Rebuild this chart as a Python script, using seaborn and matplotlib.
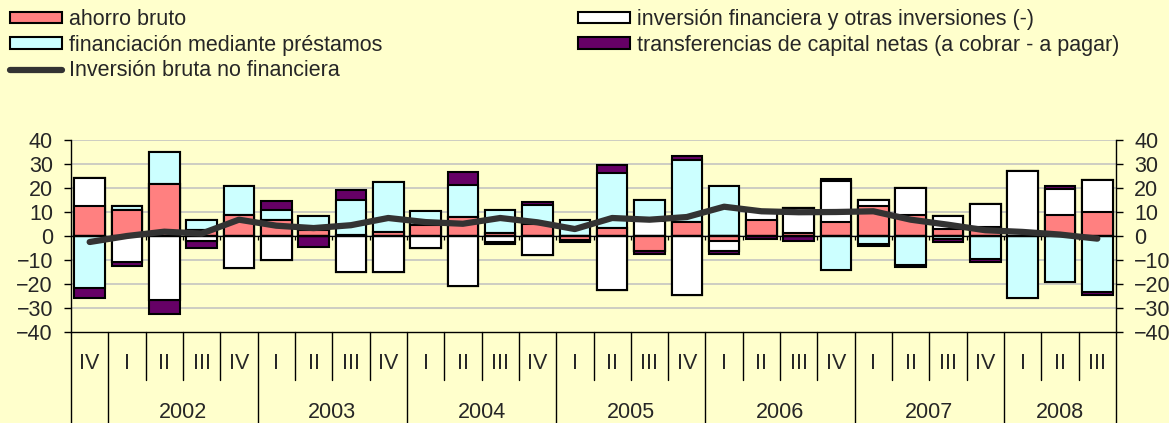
import numpy as np
import pandas as pd
import matplotlib
matplotlib.use("Agg")
import matplotlib.pyplot as plt
from matplotlib.patches import Patch
from matplotlib.lines import Line2D
import seaborn as sns

# quarters 2001 IV .. 2008 III
quarters = ["IV", "I", "II", "III", "IV", "I", "II", "III", "IV", "I", "II", "III", "IV",
            "I", "II", "III", "IV", "I", "II", "III", "IV", "I", "II", "III", "IV",
            "I", "II", "III"]
years = ["2002", "2003", "2004", "2005", "2006", "2007", "2008"]

ahorro = [12.4, 10.7, 21.5, 2.6, 8.9, 6.8, 2.5, 0.3, 1.7, 4.4, 7.9, 1.1, 5.1, -1.5,
          3.3, -6.4, 5.8, -2.2, 6.8, 1.2, 5.8, 12.6, 8.9, 3.0, 3.7, 0.0, 8.9, 9.9]
inv_fin = [11.7, -10.8, -26.7, -2.2, -13.5, -10.1, 0.0, -15.1, -15.1, -5.1, -21.0, -2.4, -7.8, 0.0,
           -22.6, 6.1, -24.4, -4.2, 3.7, 10.3, 17.2, 2.2, 11.0, 5.2, 9.5, 27.0, 10.7, 13.3]
prestamos = [-21.7, 1.7, 13.3, 3.9, 11.8, 3.9, 5.7, 14.7, 20.7, 6.2, 13.5, 9.6, 7.9, 6.5,
             22.9, 8.8, 25.7, 20.7, 0.0, 0.0, -14.3, -3.2, -12.2, -1.2, -9.6, -26.0, -19.3, -23.5]
transfer = [-4.2, -1.7, -5.8, -2.9, 0.0, 4.0, -4.4, 4.3, 0.0, 0.0, 5.1, -1.0, 1.1, -1.0,
            3.5, -1.1, 1.7, -1.1, -1.1, -1.9, 0.9, -1.1, -0.6, -1.3, -1.4, 0.0, 1.1, -1.0]
inversion_bruta = [-2.5, 0.0, 1.8, 1.0, 6.8, 4.3, 3.3, 4.5, 7.5, 5.8, 5.1, 7.5, 5.7, 2.9,
                   7.5, 6.8, 7.9, 12.2, 10.3, 9.9, 10.0, 10.3, 6.8, 4.7, 2.4, 1.7, 0.6, -1.1]

labels = ["ahorro bruto", "inversión financiera y otras inversiones (-)",
          "financiación mediante préstamos",
          "transferencias de capital netas (a cobrar - a pagar)"]
colors = ["#FF8080", "#FFFFFF", "#CCFFFF", "#660066"]
line_label = "Inversión bruta no financiera"
BG = "#FFFFCC"

sns.set_style("white")
plt.rcParams["font.family"] = ["Liberation Sans", "DejaVu Sans"]
FS = 15.5

n = len(quarters)
ids = [f"q{i}" for i in range(n)]
vals = np.array([ahorro, inv_fin, prestamos, transfer])
pos_cum = np.cumsum(np.clip(vals, 0, None), axis=0)
neg_cum = np.cumsum(np.clip(vals, None, 0), axis=0)

W, H = 1169, 423
fig = plt.figure(figsize=(W / 100, H / 100), dpi=100, facecolor=BG)
x0, x1, ytop, ybot = 71, 1116, 140, 332
ax = fig.add_axes([x0 / W, 1 - ybot / H, (x1 - x0) / W, (ybot - ytop) / H])
ax.set_facecolor(BG)

for v in range(-30, 41, 10):
    ax.axhline(v, color="#C0C0C0", lw=1.1, zorder=0)

# stacked bars: draw cumulative tops from the outermost layer inwards
for cum in (pos_cum, neg_cum):
    for k in range(3, -1, -1):
        df = pd.DataFrame({"q": ids, "v": cum[k]})
        sns.barplot(data=df, x="q", y="v", order=ids, color=colors[k], saturation=1,
                    width=0.82, edgecolor="black", linewidth=1.5, errorbar=None, ax=ax,
                    zorder=2)

ax.axhline(0, color="black", lw=0.9, zorder=2.5)
bounds = np.arange(n + 1) - 0.5
ax.vlines(bounds[1:-1], 0, -1.6, color="black", lw=0.9, zorder=2.5)

sns.lineplot(x=np.arange(n), y=inversion_bruta, ax=ax, color="#333333", lw=4.5,
             solid_capstyle="round", zorder=3)

ax.set_xlim(-0.5, n - 0.5)
ax.set_ylim(-40, 40)
ax.set_yticks(range(-40, 41, 10))
ax.set_xticks([])
ax.set_xlabel("")
ax.set_ylabel("")
ax.tick_params(axis="y", left=True, right=True, labelleft=True, labelright=True,
               labelsize=FS, length=5, width=1, color="black", pad=8)
for s in ("left", "right", "bottom"):
    ax.spines[s].set_color("black")
    ax.spines[s].set_linewidth(1.0)
ax.spines["top"].set_visible(False)

# category table under the plot
tr = ax.get_xaxis_transform()
year_bounds = [0.5, 4.5, 8.5, 12.5, 16.5, 20.5, 24.5]
for b in bounds[1:-1]:
    bottom = -0.474 if b in year_bounds else -0.25
    ax.plot([b, b], [0, bottom], color="black", lw=1.0, transform=tr, clip_on=False)
for b in (-0.5, n - 0.5):
    ax.plot([b, b], [0, -0.48], color="black", lw=1.0, transform=tr, clip_on=False)
for i, q in enumerate(quarters):
    ax.text(i, -0.165, q, transform=tr, ha="center", va="center", fontsize=FS)
year_centers = [2.5, 6.5, 10.5, 14.5, 18.5, 22.5, 26]
for c, y in zip(year_centers, years):
    ax.text(c, -0.42, y, transform=tr, ha="center", va="center", fontsize=FS)

# legend in two blocks
h_col1 = [Patch(facecolor=colors[0], edgecolor="black", lw=1.5, label=labels[0]),
          Patch(facecolor=colors[2], edgecolor="black", lw=1.5, label=labels[2]),
          Line2D([], [], color="#333333", lw=4.5, label=line_label)]
h_col2 = [Patch(facecolor=colors[1], edgecolor="black", lw=1.5, label=labels[1]),
          Patch(facecolor=colors[3], edgecolor="black", lw=1.5, label=labels[3])]
common = dict(loc="upper left", frameon=False, fontsize=FS, handlelength=2.4,
              handleheight=0.45, handletextpad=0.35, labelspacing=0.22,
              borderpad=0, borderaxespad=0)
fig.legend(handles=h_col1, bbox_to_anchor=(10 / W, 1 - 9 / H), **common)
fig.legend(handles=h_col2, bbox_to_anchor=(578 / W, 1 - 9 / H), **common)

fig.savefig("out.png", dpi=100, facecolor=BG)
